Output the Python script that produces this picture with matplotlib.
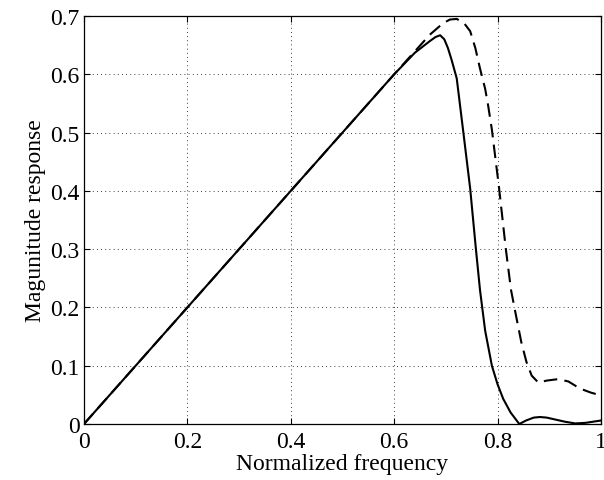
import matplotlib
matplotlib.use('Agg')
import matplotlib.pyplot as plt

# solid curve
x_solid = [0, 0.2, 0.4, 0.6, 0.64, 0.669, 0.68, 0.689, 0.697, 0.704, 0.711, 0.721,
           0.734, 0.747, 0.758, 0.766, 0.776, 0.789, 0.80, 0.811, 0.825, 0.842,
           0.855, 0.87, 0.882, 0.895, 0.91, 0.93, 0.95, 0.97, 0.985, 1.0]
y_solid = [0, 0.2, 0.4, 0.6, 0.637, 0.657, 0.664, 0.667, 0.660, 0.645, 0.625, 0.593,
           0.499, 0.404, 0.301, 0.23, 0.16, 0.100, 0.068, 0.043, 0.02, 0.0,
           0.006, 0.011, 0.012, 0.011, 0.008, 0.004, 0.001, 0.002, 0.004, 0.006]

# dashed curve
x_dash = [0, 0.2, 0.4, 0.6, 0.669, 0.695, 0.708, 0.721, 0.735, 0.747, 0.757, 0.766,
          0.776, 0.782, 0.789, 0.803, 0.816, 0.826, 0.837, 0.846, 0.856, 0.866,
          0.879, 0.895, 0.917, 0.937, 0.959, 0.98, 1.0]
y_dash = [0, 0.2, 0.4, 0.6, 0.668, 0.688, 0.694, 0.695, 0.688, 0.674, 0.645, 0.61,
          0.575, 0.545, 0.505, 0.404, 0.30, 0.23, 0.18, 0.14, 0.106, 0.083,
          0.071, 0.0745, 0.077, 0.073, 0.061, 0.054, 0.049]

xticks = [0, 0.2, 0.4, 0.6, 0.8, 1]
xticklabels = ['0', '0.2', '0.4', '0.6', '0.8', '1']
yticks = [0, 0.1, 0.2, 0.3, 0.4, 0.5, 0.6, 0.7]
yticklabels = ['0', '0.1', '0.2', '0.3', '0.4', '0.5', '0.6', '0.7']

plt.rcParams['font.family'] = ['Liberation Serif', 'DejaVu Serif']
plt.rcParams['font.size'] = 17

fig = plt.figure(figsize=(6.04, 4.81), dpi=100)
ax = fig.add_axes([0.139, 0.1164, 0.856, 0.8482])

ax.plot(x_solid, y_solid, 'k-', lw=1.5)
ax.plot(x_dash, y_dash, 'k--', lw=1.5, dashes=(6.5, 3.5))

ax.set_xlim(0, 1)
ax.set_ylim(0, 0.7)
ax.set_xticks(xticks)
ax.set_xticklabels(xticklabels)
ax.set_yticks(yticks)
ax.set_yticklabels(yticklabels)
ax.tick_params(axis='both', direction='in', length=4, width=0.8, top=True, right=True)
ax.tick_params(axis='x', pad=5)
ax.tick_params(axis='y', pad=3)
ax.grid(True, color='k', linestyle=(0, (1, 4)), linewidth=0.6)
for s in ax.spines.values():
    s.set_linewidth(0.9)

ax.set_xlabel('Normalized frequency', labelpad=1)
ax.set_ylabel('Magunitude response', labelpad=3)

fig.savefig('out.png', dpi=100)
